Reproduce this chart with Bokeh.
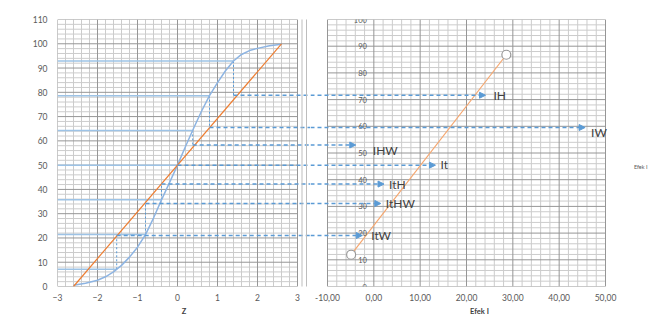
import math
import numpy as np
from bokeh.plotting import figure
from bokeh.layouts import row
from bokeh.models import (Range1d, FixedTicker, Arrow, NormalHead,
                          ColumnDataSource, Label, LabelSet)
from bokeh.core.properties import value
from bokeh.embed import file_html
from bokeh.resources import INLINE

# ---------------- data ----------------
# left chart: cumulative normal curve (%P vs Z)
z_curve = [-2.6, -2.3, -2.0, -1.8, -1.6, -1.4, -1.2, -1.0, -0.8, -0.6, -0.4, -0.2, 0.0,
           0.2, 0.4, 0.6, 0.8, 1.0, 1.2, 1.4, 1.6, 1.8, 2.0, 2.3, 2.6]
p_curve = [0.5, 1.3, 2.6, 4.0, 6.0, 8.7, 12.1, 16.2, 21.4, 28.2, 35.7, 42.8, 50.0,
           57.7, 65.1, 72.2, 78.6, 84.0, 88.9, 92.9, 95.6, 97.2, 98.1, 99.2, 99.8]
# straight reference line
z_ref_line = [-2.6, 2.6]
p_ref_line = [0.0, 100.0]
# ranked effects: %P level, Z on curve, %P on straight line
p_levels = [7.1, 21.4, 35.7, 50.0, 64.3, 78.6, 92.9]
z_points = [-1.52, -0.80, -0.40, 0.0, 0.38, 0.80, 1.40]
p_on_line = [21.0, 34.2, 42.2, 50.0, 58.3, 65.5, 78.8]
# right chart: effect names and values
effect_names = ["ItW", "ItHW", "ItH", "It", "IHW", "IW", "IH"]
effect_values = [-2.5, 1.5, 2.2, 13.3, -3.9, 45.6, 24.1]
fit_x = [-4.9, 28.6]
fit_y = [11.9, 86.8]
# ticks
left_x_ticks = [-3, -2, -1, 0, 1, 2, 3]
left_y_ticks = [0, 10, 20, 30, 40, 50, 60, 70, 80, 90, 100, 110]
right_x_ticks = [-10, 0, 10, 20, 30, 40, 50]
right_x_labels = ["-10,00", "0,00", "10,00", "20,00", "30,00", "40,00", "50,00"]
right_y_ticks = [0, 10, 20, 30, 40, 50, 60, 70, 80, 90, 100]

# ---------------- style ----------------
FONT = "Lato"
GRID_MINOR = "#cccccc"
GRID_MAJOR = "#969696"
TICK_COLOR = "#595959"
BLUE = "#5B9BD5"
LIGHT_BLUE = "#9DC3E6"
CURVE_BLUE = "#8DB4E2"
ORANGE = "#ED7D31"
LIGHT_ORANGE = "#F5A66E"
BORDER = "#d0d0d0"
SEP = "#bdbdbd"
# label offsets in pixels (dx, dy)
label_offsets = {"ItW": (9, 0), "ItHW": (5, 0), "ItH": (5, 0), "It": (5, -1),
                 "IHW": (17, 6), "IW": (6, 5), "IH": (8, 0)}

H = 324
LX = (-3.0, 3.325)
RX = (-13.67, 59.28)


def draw_grid(p, x0, x1, xstep, xmaj, y0, y1, ystep, ymaj):
    xs = np.round(np.arange(x0, x1 + xstep / 2, xstep), 6)
    ys = np.round(np.arange(y0, y1 + ystep / 2, ystep), 6)
    is_maj = lambda v, m: abs(v / m - round(v / m)) < 1e-6
    mx = [float(v) for v in xs if not is_maj(v, xmaj)]
    my = [float(v) for v in ys if not is_maj(v, ymaj)]
    Mx = [float(v) for v in xs if is_maj(v, xmaj)]
    My = [float(v) for v in ys if is_maj(v, ymaj)]
    p.segment(x0=mx, y0=y0, x1=mx, y1=y1, line_color=GRID_MINOR, line_width=1)
    p.segment(x0=x0, y0=my, x1=x1, y1=my, line_color=GRID_MINOR, line_width=1)
    p.segment(x0=Mx, y0=y0, x1=Mx, y1=y1, line_color=GRID_MAJOR, line_width=1)
    p.segment(x0=x0, y0=My, x1=x1, y1=My, line_color=GRID_MAJOR, line_width=1)


def style_axis(ax):
    ax.axis_line_color = None
    ax.major_tick_line_color = None
    ax.minor_tick_line_color = None
    ax.major_label_text_font = FONT
    ax.major_label_text_font_size = "8.5px"
    ax.major_label_text_color = TICK_COLOR
    ax.axis_label_text_font = FONT
    ax.axis_label_text_font_size = "7.5px"
    ax.axis_label_text_font_style = "bold"
    ax.axis_label_text_color = "#404040"


def add_rule(p, x0, y0, x1, y1, color):
    p.add_layout(Arrow(start=None, end=None, x_start=x0, x_end=x1,
                       y_start=y0, y_end=y1, line_color=color, line_width=1))


# ---------------- left chart ----------------
pl = figure(width=310, height=H, x_range=Range1d(*LX), y_range=Range1d(0, 110),
            output_backend="svg", toolbar_location=None,
            min_border_left=57, min_border_right=0, min_border_top=19,
            min_border_bottom=H - 286)
pl.outline_line_color = None
pl.grid.visible = False
pl.background_fill_color = "white"
pl.border_fill_color = "white"

draw_grid(pl, -3, 3, 0.2, 1, 0, 110, 2, 10)

pl.xaxis.ticker = FixedTicker(ticks=left_x_ticks)
pl.yaxis.ticker = FixedTicker(ticks=left_y_ticks)
pl.xaxis.bounds = (-3, 3)
pl.xaxis.axis_label = "Z"
for ax in (pl.xaxis[0], pl.yaxis[0]):
    style_axis(ax)
pl.xaxis.major_label_standoff = 1
pl.xaxis.axis_label_standoff = 3
pl.yaxis.major_label_standoff = 4

# y axis title, placed beside the tick labels
pl.add_layout(Label(x=-3, y=55, x_offset=-31.5, text="% P", angle=math.pi / 2,
                    text_align="center", text_baseline="middle", text_font=FONT,
                    text_font_size="7.5px", text_font_style="bold", text_color="#404040"))

# level lines from the left edge to the curve
pl.segment(x0=LX[0], y0=p_levels, x1=z_points, y1=p_levels,
           line_color=LIGHT_BLUE, line_width=1.5)
# drop lines from the curve to the straight line
pl.segment(x0=z_points, y0=p_levels, x1=z_points, y1=p_on_line,
           line_color=BLUE, line_width=1, line_dash="2 2")
pl.line(z_curve, p_curve, line_color=CURVE_BLUE, line_width=1.5)
pl.line(z_ref_line, p_ref_line, line_color=ORANGE, line_width=1.2)
# projections towards the right chart
pl.segment(x0=z_points, y0=p_on_line, x1=LX[1], y1=p_on_line,
           line_color=BLUE, line_width=1.5, line_dash="4 3")

# chart borders and window separator (decoration)
add_rule(pl, -4.125, -14.8, -4.125, 113.7, BORDER)
add_rule(pl, -4.125, 113.7, 3.11, 113.7, BORDER)
add_rule(pl, -4.125, -14.8, 3.11, -14.8, BORDER)
add_rule(pl, 3.1125, -17, 3.1125, 116, SEP)
add_rule(pl, 3.225, -17, 3.225, 116, SEP)

# ---------------- right chart ----------------
pr = figure(width=338, height=H, x_range=Range1d(*RX), y_range=Range1d(0, 100),
            y_axis_location=None, output_backend="svg", toolbar_location=None,
            min_border_left=0, min_border_right=0, min_border_top=19,
            min_border_bottom=H - 286)
pr.extra_y_ranges = {"pct": Range1d(0, 110)}
pr.outline_line_color = None
pr.grid.visible = False
pr.background_fill_color = "white"
pr.border_fill_color = "white"

draw_grid(pr, -10, 50, 2, 10, 0, 100, 2, 10)

pr.xaxis.ticker = FixedTicker(ticks=right_x_ticks)
pr.xaxis.major_label_overrides = {t: s for t, s in zip(right_x_ticks, right_x_labels)}
pr.xaxis.bounds = (-10, 50)
pr.xaxis.axis_label = "Efek I"
style_axis(pr.xaxis[0])
pr.xaxis.major_label_standoff = 1
pr.xaxis.axis_label_standoff = 3

# y tick labels sitting at x = 0
ysrc = ColumnDataSource(dict(x=[0] * len(right_y_ticks), y=right_y_ticks,
                             t=[str(v) for v in right_y_ticks]))
pr.add_layout(LabelSet(x="x", y="y", text="t", source=ysrc, x_offset=-7,
                       text_align="right", text_baseline="middle",
                       text_font=value(FONT), text_font_size="7.5px",
                       text_color=TICK_COLOR))

pr.line(fit_x, fit_y, line_color=LIGHT_ORANGE, line_width=1.2)
pr.scatter(fit_x, fit_y, marker="circle", size=9, fill_color="white",
           line_color="#9a9a9a", line_width=1.2)

asrc = ColumnDataSource(dict(x0=[RX[0]] * len(effect_values), y=p_on_line, x1=effect_values))
pr.add_layout(Arrow(end=NormalHead(size=6, fill_color=BLUE, line_color=BLUE, line_width=1),
                    x_start="x0", y_start="y", x_end="x1", y_end="y", source=asrc,
                    line_color=BLUE, line_width=1.5, line_dash="4 3", y_range_name="pct"))

tsrc = ColumnDataSource(dict(x=effect_values, y=p_on_line, t=effect_names,
                             dx=[label_offsets[n][0] for n in effect_names],
                             dy=[label_offsets[n][1] for n in effect_names]))
pr.text(x="x", y="y", text="t", source=tsrc, x_offset="dx", y_offset="dy",
        y_range_name="pct", text_font=value(FONT), text_font_size="12px",
        text_color="#404040", text_align="left", text_baseline="middle")

pr.add_layout(Label(x=RX[1], y=44.7, text="Efek I", x_offset=-1, text_align="right",
                    text_baseline="middle", text_font=FONT,
                    text_font_size="5.5px", text_color=TICK_COLOR))
add_rule(pr, -14.5, 104.1, RX[1], 104.1, BORDER)
add_rule(pr, -13.9, -13.6, RX[1], -13.6, BORDER)

layout = row(pl, pr)
open("out.html", "w").write(file_html(layout, INLINE))
